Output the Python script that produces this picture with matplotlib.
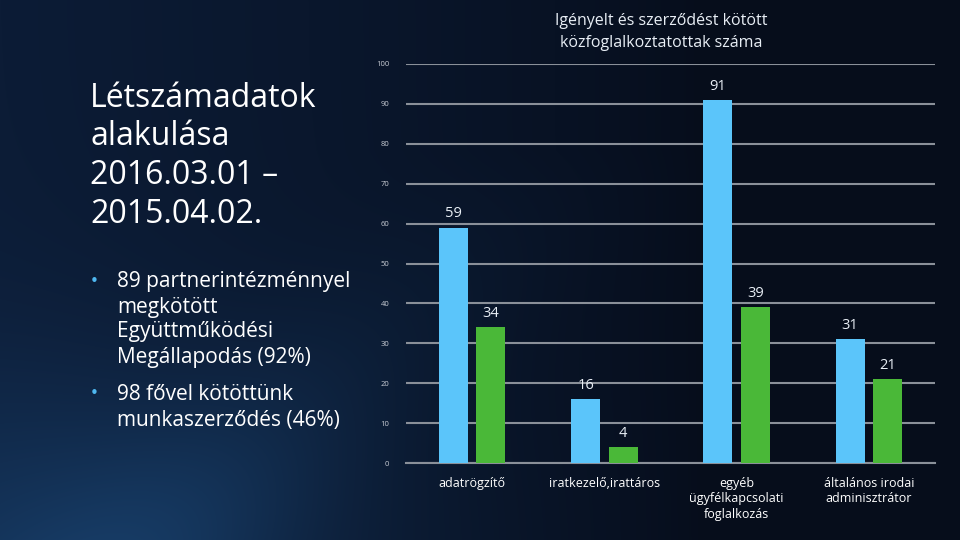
import numpy as np
import matplotlib
matplotlib.use("Agg")
import matplotlib.pyplot as plt

categories = ["adatrögzítő", "iratkezelő,irattáros", "egyéb\nügyfélkapcsolati\nfoglalkozás", "általános irodai\nadminisztrátor"]
requested = [59, 16, 91, 31]
contracted = [34, 4, 39, 21]
yticks = [0, 10, 20, 30, 40, 50, 60, 70, 80, 90, 100]

chart_title = ["Igényelt és szerződést kötött", "közfoglalkoztatottak száma"]
slide_title = ["Létszámadatok", "alakulása", "2016.03.01 –", "2015.04.02."]
bullet1 = ["89 partnerintézménnyel", "megkötött", "Együttműködési", "Megállapodás (92%)"]
bullet2 = ["98 fővel kötöttünk", "munkaszerződés (46%)"]

FONT = ["Open Sans", "DejaVu Sans"]
plt.rcParams['font.family'] = FONT

W, H = 960, 540
fig = plt.figure(figsize=(9.6, 5.4), dpi=100)

def fy(y):
    return 1 - y / H

# background gradient
bg = fig.add_axes([0, 0, 1, 1])
yy, xx = np.mgrid[0:H, 0:W]
dark = np.array([0x06, 0x0d, 0x1b]) / 255.0
mid = np.array([0x0c, 0x1c, 0x36]) / 255.0
light = np.array([0x17, 0x3c, 0x66]) / 255.0
t1 = np.clip(1 - xx / 700.0, 0, 1) ** 0.7
t2 = np.exp(-(((xx - 40) / 300.0) ** 2 + ((yy - 560) / 200.0) ** 2)) * 0.7
band = np.exp(-((((xx - 1.0 * (H - yy)) - 150) / 140.0) ** 2)) * np.clip((yy - 150) / 390.0, 0, 1) * 0.35
img = dark[None, None, :] * (1 - t1[..., None]) + mid[None, None, :] * t1[..., None]
img = img * (1 - t2[..., None]) + light[None, None, :] * t2[..., None]
img = img + band[..., None] * (light - mid)[None, None, :]
img = np.clip(img, 0, 1)
bg.imshow(img, extent=[0, 1, 0, 1], aspect='auto', origin='upper')
bg.set_axis_off()

# left texts
for line, by in zip(slide_title, [107, 145, 184, 223]):
    fig.text(90 / W, fy(by), line, color="white", fontsize=23,
             ha="left", va="baseline")
for line, by in zip(bullet1, [287, 312.5, 337.5, 363]):
    fig.text(117 / W, fy(by), line, color="white", fontsize=15,
             ha="left", va="baseline")
for line, by in zip(bullet2, [400.5, 426]):
    fig.text(117 / W, fy(by), line, color="white", fontsize=15,
             ha="left", va="baseline")
for by in (281, 394):
    fig.text(94 / W, fy(by), "•", color="#4fb8f0", fontsize=11,
             ha="center", va="center", family="DejaVu Sans")

# chart
ax = fig.add_axes([406 / W, fy(463), 529 / W, 399 / H])
ax.set_facecolor("none")
x = np.arange(len(categories))
w = 0.22
b1 = ax.bar(x - 0.142, requested, w, color="#5bc5fa", zorder=3)
b2 = ax.bar(x + 0.142, contracted, w, color="#4ab838", zorder=3)
for bars, vals in ((b1, requested), (b2, contracted)):
    for r, v in zip(bars, vals):
        ax.text(r.get_x() + r.get_width() / 2, v + 1.6, str(v), ha="center", va="bottom",
                color="#e8eef5", fontsize=10.5)
ax.set_xlim(-0.5, len(categories) - 0.5)
ax.set_ylim(0, 100)
ax.set_yticks(yticks)
ax.set_yticklabels([str(v) for v in yticks], color="#c8ccd4", fontsize=5.5)
ax.tick_params(axis="y", length=0, pad=12)
ax.tick_params(axis="x", length=0, pad=10)
ax.set_xticks(x)
ax.set_xticklabels(categories, color="white", fontsize=9, linespacing=1.25)
ax.grid(axis="y", color="#8a9099", linewidth=1.5, zorder=0)
for s in ("top", "right", "left"):
    ax.spines[s].set_visible(False)
ax.spines["bottom"].set_color("#8a9099")
ax.spines["bottom"].set_linewidth(1.5)

for line, by in zip(chart_title, [25, 47]):
    fig.text(661 / W, fy(by), line, color="#e8eef5", fontsize=11.5,
             ha="center", va="baseline")

fig.savefig("out.png", dpi=100)
